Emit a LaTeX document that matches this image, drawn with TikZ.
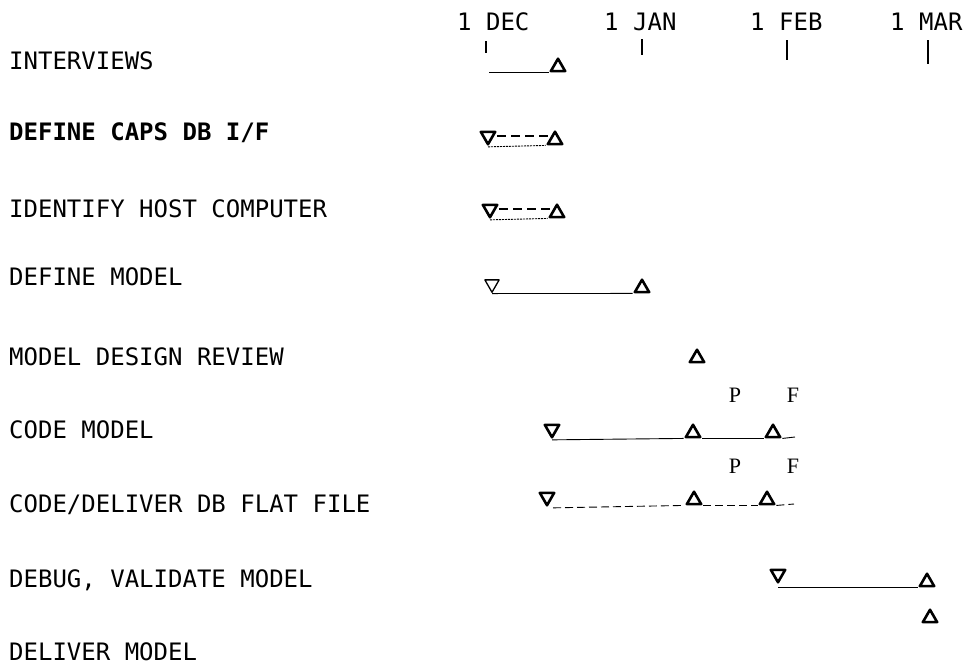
\documentclass[tikz,border=0pt]{standalone}
\usepackage{fontspec}
\setmonofont{DejaVu Sans Mono}
\newfontfamily\pffont{Liberation Serif}
\usetikzlibrary{shapes.geometric}
\begin{document}
\begin{tikzpicture}[x=1pt,y=-1pt,
  lbl/.style={anchor=base west, inner sep=0pt, font=\ttfamily\fontsize{24}{24}\selectfont},
  boldlbl/.style={lbl, font=\ttfamily\bfseries\fontsize{24}{24}\selectfont},
  pf/.style={anchor=base, inner sep=0pt, font=\pffont\fontsize{22}{22}\selectfont},
  upmark/.style={regular polygon, regular polygon sides=3, minimum size=16.5pt, inner sep=0pt, draw, line width=2.6pt, line join=round},
  dnmark/.style={upmark, shape border rotate=180},
  thindn/.style={dnmark, line width=1.3pt},
  tick/.style={line width=1.2pt},
  bar/.style={line width=0.9pt},
  dashbar/.style={line width=0.9pt, dash pattern=on 8pt off 4pt},
  middash/.style={line width=1.6pt, dash pattern=on 9pt off 5pt}
]
\useasboundingbox (0,0) rectangle (974,664);

% month headings
\node[lbl] (mdec) at (457,30) {1 DEC};
\node[lbl] (mjan) at (604,30) {1 JAN};
\node[lbl] (mfeb) at (750,30) {1 FEB};
\node[lbl] (mmar) at (890,30) {1 MAR};
\coordinate (tdecA) at (486,41); \coordinate (tdecB) at (486,53);
\coordinate (tjanA) at (642,39); \coordinate (tjanB) at (642,55);
\coordinate (tfebA) at (787,40); \coordinate (tfebB) at (787,60);
\coordinate (tmarA) at (928,40); \coordinate (tmarB) at (928,64);
\draw[tick] (tdecA) -- (tdecB);
\draw[tick] (tjanA) -- (tjanB);
\draw[tick] (tfebA) -- (tfebB);
\draw[tick] (tmarA) -- (tmarB);

% task labels
\node[lbl] (r1) at (9,69) {INTERVIEWS};
\node[boldlbl] (r2) at (9,140) {DEFINE CAPS DB I/F};
\node[lbl] (r3) at (9,217) {IDENTIFY HOST COMPUTER};
\node[lbl] (r4) at (9,285) {DEFINE MODEL};
\node[lbl] (r5) at (9,365) {MODEL DESIGN REVIEW};
\node[lbl] (r6) at (9,438) {CODE MODEL};
\node[lbl] (r7) at (9,512) {CODE/DELIVER DB FLAT FILE};
\node[lbl] (r8) at (9,587) {DEBUG, VALIDATE MODEL};
\node[lbl] (r9) at (9,660) {DELIVER MODEL};

% row 1
\node[upmark] (u1) at (558,67) {};
\coordinate (s1) at (489,72);
\draw[bar] (s1) -- (u1.corner 2 |- s1);

% row 2
\node[dnmark] (d2) at (488,136) {};
\node[upmark] (u2) at (555,140) {};
\draw[bar, dash pattern=on 2pt off 1pt] (d2.corner 1) -- (u2.corner 2);
\draw[middash] ([xshift=9pt]d2.center) -- ([xshift=-7pt]d2.center -| u2.center);

% row 3
\node[dnmark] (d3) at (490,209) {};
\node[upmark] (u3) at (557,213) {};
\draw[bar, dash pattern=on 2pt off 1pt] (d3.corner 1) -- (u3.corner 2);
\draw[middash] ([xshift=9pt]d3.center) -- ([xshift=-7pt]d3.center -| u3.center);

% row 4
\node[thindn] (d4) at (492,284) {};
\node[upmark] (u4) at (642,288) {};
\draw[bar] (d4.corner 1) -- (u4.corner 2);

% row 5
\node[upmark] (u5) at (697,358) {};

% row 6
\node[pf] (p6) at (735,402) {P};
\node[pf] (f6) at (793,402) {F};
\node[dnmark] (d6) at (552,429) {};
\node[upmark] (u6a) at (693,433) {};
\node[upmark] (u6b) at (773,433) {};
\coordinate (e6) at (795,437);
\draw[bar] (d6.corner 1) -- (u6a.corner 2);
\draw[bar] (u6a.corner 3) -- (u6b.corner 2);
\draw[bar] (u6b.corner 3) -- (e6);

% row 7
\node[pf] (p7) at (735,473) {P};
\node[pf] (f7) at (793,473) {F};
\node[dnmark] (d7) at (547,497) {};
\node[upmark] (u7a) at (694,500) {};
\node[upmark] (u7b) at (767,500) {};
\coordinate (e7) at (794,504);
\draw[dashbar] ([xshift=6pt]d7.corner 1) -- (u7a.corner 2);
\draw[dashbar] (u7a.corner 3) -- (u7b.corner 2);
\draw[dashbar] (u7b.corner 3) -- (e7);

% row 8
\node[dnmark] (d8) at (778,574) {};
\node[upmark] (u8) at (927,582) {};
\draw[bar] (d8.corner 1 |- u8.corner 2) -- (u8.corner 2);

% row 9
\node[upmark] (u9) at (930,618) {};
\end{tikzpicture}
\end{document}
